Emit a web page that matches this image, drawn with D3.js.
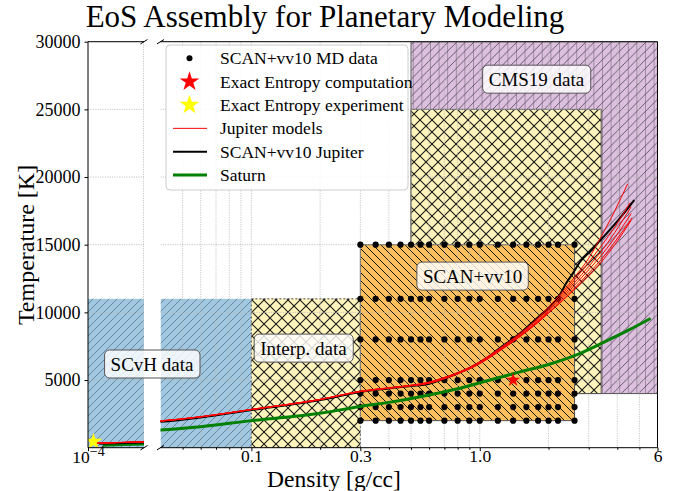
<!DOCTYPE html>
<html><head><meta charset="utf-8">
<script src="https://cdn.jsdelivr.net/npm/d3@7"></script>
<style>body{margin:0;background:#fff}svg{display:block}text{font-family:"Liberation Serif","DejaVu Serif",serif}</style>
</head><body><svg id="c" width="688" height="491"></svg>
<script>
// ---------- data ----------
const mdDensities = [0.3,0.35,0.4,0.45,0.5,0.55,0.6,0.7,0.8,0.9,1.0,1.2,1.4,1.6,1.8,2.0,2.2,2.6];
const mdTemps = [2000,3000,4000,5000,8000,11000,15000];
const exactComputation = [[1.4,5000]];
const exactExperiment = [[1.07e-4,450]];
const xTicksRight = [0.1,0.3,1.0,6];
const xTickLabelsRight = ["0.1","0.3","1.0","6"];
const yTicks = [5000,10000,15000,20000,25000,30000];
// regions: [rhoMin, rhoMax, Tmin, Tmax]
const regionSCvHLeft = [1e-4,2e-4,0,11000];
const regionSCvHRight = [0.04,0.1,0,11000];
const regionInterpLow = [0.1,0.3,0,11000];
const regionInterpHigh = [0.5,3.4,4000,25000];
const regionCMS19 = [0.5,6,4000,30000];
const regionSCAN = [0.3,2.6,2000,15000];
const saturn = [[1.2e-4,180],[2e-4,280],[0.04,1310],[0.06,1550],[0.1,2000],[0.2,2550],[0.3,3050],[0.4,3350],[0.6,3900],[0.8,4350],[1.0,4800],[1.5,5600],[2.0,6150],[2.6,6800],[3.5,7800],[4.5,8700],[5.6,9550]];
const scanJupiter = [[1.15e-4,290],[2e-4,390],[0.04,1920],[0.06,2240],[0.1,2780],[0.2,3520],[0.3,4120],[0.4,4380],[0.5,4550],[0.6,4720],[0.7,5100],[0.8,5500],[0.93,6000],[1.07,6620],[1.2,7250],[1.5,8450],[1.83,9750],[2.0,10300],[2.24,11300],[2.4,12200],[2.56,12900],[2.74,13700],[3.13,14700],[3.36,15300],[3.6,15850],[4.1,16950],[4.75,18300]];
const jupiterA = [[1.1e-4,340],[2e-4,440],[0.04,1980],[0.06,2290],[0.1,2830],[0.2,3570],[0.3,4170],[0.4,4420],[0.5,4600],[0.6,4790],[0.7,5150],[0.8,5520],[1.0,6350],[1.2,7250],[1.5,8450],[1.8,9600],[2.0,10400],[2.3,11500],[2.6,12600],[3.0,14000],[3.4,15600],[3.9,17500],[4.44,19500]];
const jupiterB = [[1.1e-4,330],[2e-4,430],[0.04,1970],[0.06,2280],[0.1,2820],[0.2,3560],[0.3,4150],[0.4,4400],[0.5,4580],[0.6,4770],[0.7,5120],[0.8,5480],[1.0,6300],[1.2,7150],[1.5,8300],[1.8,9400],[2.0,10150],[2.3,11200],[2.6,12200],[3.0,13400],[3.4,14500],[3.9,15900],[4.6,17800]];
const jupiterC = [[1.1e-4,325],[2e-4,425],[0.04,1960],[0.06,2270],[0.1,2810],[0.2,3550],[0.3,4160],[0.4,4410],[0.5,4610],[0.6,4830],[0.7,5180],[0.8,5520],[1.0,6250],[1.2,7100],[1.5,8250],[1.8,9350],[2.0,10050],[2.3,11050],[2.6,12000],[3.0,13150],[3.4,14200],[3.9,15500],[4.6,17300]];
const jupiterD = [[1.1e-4,335],[2e-4,435],[0.04,1975],[0.06,2285],[0.1,2825],[0.2,3565],[0.3,4140],[0.4,4390],[0.5,4570],[0.6,4760],[0.7,5090],[0.8,5450],[1.0,6200],[1.2,7050],[1.5,8200],[1.8,9250],[2.0,9950],[2.3,10900],[2.6,11800],[3.0,12900],[3.4,13900],[3.9,15200],[4.65,17000]];
const jupiterE = [[1.1e-4,330],[2e-4,430],[0.04,1965],[0.06,2275],[0.1,2815],[0.2,3555],[0.3,4180],[0.4,4430],[0.5,4620],[0.6,4850],[0.7,5200],[0.8,5550],[1.0,6280],[1.2,7120],[1.5,8230],[1.8,9300],[2.0,9950],[2.3,10850],[2.6,11700],[3.0,12700],[3.4,13700],[3.9,15000],[4.6,16800]];
const jupiterF = [[1.1e-4,338],[2e-4,438],[0.04,1985],[0.06,2295],[0.1,2835],[0.2,3575],[0.3,4150],[0.4,4400],[0.5,4590],[0.6,4780],[0.7,5130],[0.8,5500],[1.0,6320],[1.2,7200],[1.5,8380],[1.8,9500],[2.0,10250],[2.3,11350],[2.6,12400],[3.0,13700],[3.4,14900],[3.9,16300],[4.55,18100]];
const jupiterModels = [jupiterA,jupiterB,jupiterC,jupiterD,jupiterE,jupiterF];
const legendLabels = ["SCAN+vv10 MD data","Exact Entropy computation","Exact Entropy experiment","Jupiter models","SCAN+vv10 Jupiter","Saturn"];

// ---------- setup ----------
const svg = d3.select("#c");
const yB = 447.7, yT = 41.7;
const xl = d3.scaleLog().domain([1e-4,2e-4]).range([88,144]);
const xr = d3.scaleLog().domain([0.04,6]).range([160.5,657.5]);
const y = d3.scaleLinear().domain([0,30000]).range([yB,yT]);
const defs = svg.append("defs");

function hatch(id, s, bg, color, w, kinds){
  const p = defs.append("pattern").attr("id",id).attr("patternUnits","userSpaceOnUse").attr("width",s).attr("height",s);
  p.append("rect").attr("width",s).attr("height",s).attr("fill",bg);
  const g = p.append("g").attr("stroke",color).attr("stroke-width",w).attr("fill","none");
  kinds.forEach(k=>{
    if(k==="/") g.append("path").attr("d",`M0,${s} L${s},0 M${-s/2},${s/2} L${s/2},${-s/2} M${s/2},${1.5*s} L${1.5*s},${s/2}`);
    if(k==="\\") g.append("path").attr("d",`M0,0 L${s},${s} M${-s/2},${s/2} L${s/2},${1.5*s} M${s/2},${-s/2} L${1.5*s},${s/2}`);
    if(k==="|") g.append("path").attr("d",`M0,0 L0,${s}`);
  });
}
hatch("hBlue",8,"#a1c8e0","#557790",0.8,["/"]);
hatch("hYel",12,"#fff5bc","#1a1a1a",1.1,["/","\\"]);
hatch("hOr",8,"#fbbf5e","#1a1a1a",1,["\\"]);
hatch("hPur",8.6,"#dcc0de","#52485a",0.85,["/","|"]);
defs.append("clipPath").attr("id","clipL").append("rect").attr("x",88).attr("y",yT).attr("width",56).attr("height",yB-yT);
defs.append("clipPath").attr("id","clipR").append("rect").attr("x",160.5).attr("y",yT).attr("width",497).attr("height",yB-yT);

const gL = svg.append("g").attr("clip-path","url(#clipL)");
const gR = svg.append("g").attr("clip-path","url(#clipR)");

function region(g, x, r, fill, stroke, dash){
  g.append("rect").attr("x",x(r[0])).attr("y",y(r[3])).attr("width",x(r[1])-x(r[0])).attr("height",y(r[2])-y(r[3]))
   .attr("fill",`url(#${fill})`).attr("stroke",stroke).attr("stroke-width",1).attr("stroke-dasharray",dash||null);
}
region(gL, xl, regionSCvHLeft, "hBlue", "none");
region(gR, xr, regionSCvHRight, "hBlue", "none");
region(gR, xr, regionCMS19, "hPur", "#555");
region(gR, xr, regionInterpHigh, "hYel", "#555");
region(gR, xr, regionInterpLow, "hYel", "#444", "2,2");
region(gR, xr, regionSCAN, "hOr", "#555");

// grid
const gridStyle = s=>s.attr("stroke","#b8b8b8").attr("stroke-width",0.8).attr("stroke-dasharray","1.2,1.2");
const minorR = [0.05,0.06,0.07,0.08,0.09,0.1,0.2,0.3,0.4,0.5,0.6,0.7,0.8,0.9,1,2,3,4,5,6];
gR.selectAll(".vg").data(minorR).join("line").attr("x1",d=>xr(d)).attr("x2",d=>xr(d)).attr("y1",yT).attr("y2",yB).call(gridStyle);
gL.selectAll(".vg").data([2e-4]).join("line").attr("x1",d=>xl(d)-0.5).attr("x2",d=>xl(d)-0.5).attr("y1",yT).attr("y2",yB).call(gridStyle);
[gL,gR].forEach((g,i)=>{
  const xs = i===0?[88,144]:[160.5,657.5];
  g.selectAll(".hg").data(yTicks).join("line").attr("x1",xs[0]).attr("x2",xs[1]).attr("y1",d=>y(d)).attr("y2",d=>y(d)).call(gridStyle);
});

// MD points
const pts = [];
mdTemps.forEach(t=>mdDensities.forEach(r=>pts.push([r,t])));
gR.selectAll(".md").data(pts).join("circle").attr("cx",d=>xr(d[0])).attr("cy",d=>y(d[1])).attr("r",3.1).attr("fill","#000");

// lines
function drawLine(data,color,w){
  [[gL,xl],[gR,xr]].forEach(([g,x])=>{
    g.append("path").datum(data).attr("fill","none").attr("stroke",color).attr("stroke-width",w).attr("stroke-linejoin","round")
     .attr("d",d3.line().x(d=>x(d[0])).y(d=>y(d[1])).curve(d3.curveMonotoneX));
  });
}
drawLine(saturn,"#008000",3);
drawLine(scanJupiter,"#000",2);
jupiterModels.forEach(m=>drawLine(m,"#ff0000",1));

// stars
const star = d3.symbol().type(d3.symbolStar);
gR.selectAll(".s1").data(exactComputation).join("path").attr("d",star.size(60)).attr("transform",d=>`translate(${xr(d[0])},${y(d[1])})`).attr("fill","#ff0000");
gL.selectAll(".s2").data(exactExperiment).join("path").attr("d",star.size(90)).attr("transform",d=>`translate(${xl(d[0])},${y(d[1])})`).attr("fill","#ffff00");

// spines
const sp = svg.append("g").attr("stroke","#000").attr("stroke-width",1).attr("fill","none");
sp.append("path").attr("d",`M144,${yT} L88,${yT} L88,${yB} L144,${yB}`);
sp.append("path").attr("d",`M160.5,${yT} L657.5,${yT} L657.5,${yB} L160.5,${yB}`);
[[144,yT],[160.5,yT],[144,yB],[160.5,yB]].forEach(p=>sp.append("line").attr("x1",p[0]-3.5).attr("y1",p[1]+2.2).attr("x2",p[0]+3.5).attr("y2",p[1]-2.2));

// axes
const fs = "17.5px";
const ya = svg.append("g").attr("transform","translate(88,0)").call(d3.axisLeft(y).tickValues(yTicks).tickSize(3.5).tickPadding(4).tickFormat(d3.format("d")));
ya.select(".domain").remove();
ya.selectAll("text").attr("font-size","18px").attr("font-family","Liberation Serif").attr("fill","#000");
const xaR = svg.append("g").attr("transform",`translate(0,${yB})`).call(d3.axisBottom(xr).tickValues(minorR).tickSize(2).tickPadding(0)
  .tickFormat(d=>{const i=xTicksRight.indexOf(d);return i>=0?xTickLabelsRight[i]:"";}));
xaR.select(".domain").remove();
xaR.selectAll(".tick").filter(d=>xTicksRight.includes(d)).select("line").attr("y2",3.5);
xaR.selectAll("text").attr("font-size",fs).attr("font-family","Liberation Serif").attr("fill","#000");
const xaL = svg.append("g").attr("transform",`translate(0,${yB})`).call(d3.axisBottom(xl).tickValues([1e-4]).tickSize(3.5).tickPadding(-1).tickFormat(()=>""));
xaL.select(".domain").remove();
const tl = xaL.select(".tick text").attr("font-size",fs).attr("font-family","Liberation Serif").attr("fill","#000");
tl.append("tspan").text("10");
tl.append("tspan").attr("dy","-0.45em").attr("font-size","14px").text("\u22124");

// titles
svg.append("text").attr("x",325).attr("y",27).attr("text-anchor","middle").attr("font-size","31px").text("EoS Assembly for Planetary Modeling");
svg.append("text").attr("x",334).attr("y",487).attr("text-anchor","middle").attr("font-size","23.5px").text("Density [g/cc]");
svg.append("text").attr("transform","translate(34,245) rotate(-90)").attr("text-anchor","middle").attr("font-size","24px").text("Temperature [K]");

// region labels
function label(cx, cy, txt){
  const g = svg.append("g");
  const t = g.append("text").attr("x",cx).attr("y",cy).attr("text-anchor","middle").attr("dominant-baseline","central").attr("font-size","19px").text(txt);
  const b = t.node().getBBox();
  g.insert("rect","text").attr("x",b.x-6).attr("y",cy-14).attr("width",b.width+12).attr("height",28).attr("rx",5)
   .attr("fill","#fff").attr("fill-opacity",0.82).attr("stroke","#555").attr("stroke-width",1);
}
label(152, 364, "SCvH data");
label(xr(0.169), y(7360), "Interp. data");
label(xr(0.93), y(12680), "SCAN+vv10");
label(xr(1.77), y(27230), "CMS19 data");

// legend
const lg = svg.append("g");
lg.append("rect").attr("x",166).attr("y",45).attr("width",242).attr("height",145).attr("rx",4)
  .attr("fill","#fff").attr("fill-opacity",0.85).attr("stroke","#ccc").attr("stroke-width",1);
legendLabels.forEach((t,i)=>{
  const cy = 58.3 + i*23.35, hx = 189.5;
  if(i===0) lg.append("circle").attr("cx",hx).attr("cy",cy).attr("r",3).attr("fill","#000");
  if(i===1) lg.append("path").attr("d",star.size(120)()).attr("transform",`translate(${hx},${cy})`).attr("fill","#ff0000");
  if(i===2) lg.append("path").attr("d",star.size(120)()).attr("transform",`translate(${hx},${cy})`).attr("fill","#ffff00");
  const lc = ["#ff0000","#000","#008000"][i-3], lw=[1,2,3][i-3];
  if(i>=3) lg.append("line").attr("x1",173).attr("x2",207).attr("y1",cy).attr("y2",cy).attr("stroke",lc).attr("stroke-width",lw);
  lg.append("text").attr("x",220).attr("y",cy).attr("dominant-baseline","central").attr("font-size","17.5px").text(t);
});
</script></body></html>
